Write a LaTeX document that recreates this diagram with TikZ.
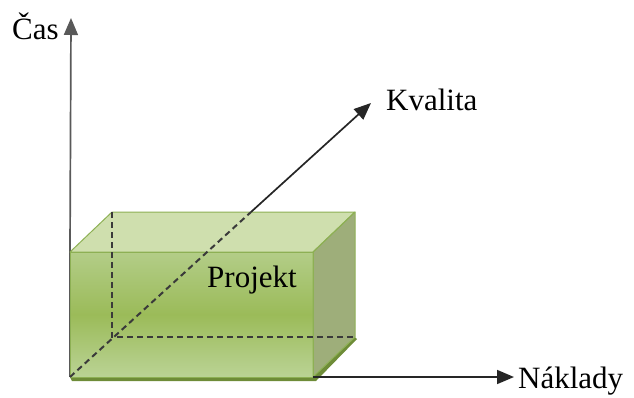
\documentclass[tikz,border=0pt]{standalone}
\usepackage{fontspec}
\setmainfont{Liberation Serif}
\usetikzlibrary{arrows.meta}
\definecolor{topface}{HTML}{CFDFAE}
\definecolor{sideface}{HTML}{9EAE7A}
\definecolor{frontmid}{HTML}{9BBB59}
\definecolor{fronttop}{HTML}{B3CD88}
\definecolor{frontbot}{HTML}{BAD395}
\definecolor{edgegreen}{HTML}{8DB054}
\definecolor{shadowgreen}{HTML}{6E8C38}
\definecolor{hiddengray}{HTML}{3A3A3A}
\tikzset{
  axis/.style={line width=1.7pt, draw=black!85, -{Triangle[length=17pt,width=14pt]}},
  hidden/.style={line width=2pt, draw=hiddengray, dash pattern=on 6pt off 4pt},
  label/.style={font=\fontsize{31}{36}\selectfont, inner sep=0pt, anchor=base west},
  boxedge/.style={draw=edgegreen, line width=1pt, line join=round}
}
\begin{document}
\begin{tikzpicture}[x=1pt,y=-1pt]
\useasboundingbox (0,0) rectangle (634,397);
% corners
\coordinate (F1) at (70,252);
\coordinate (F2) at (313,252);
\coordinate (F3) at (313,377);
\coordinate (F4) at (70,377);
\coordinate (B1) at (112,212);
\coordinate (B2) at (355,212);
\coordinate (B3) at (355,337);
\coordinate (B4) at (112,337);
% axis ends
\coordinate (tipT) at (71,18);
\coordinate (tipK) at (371,103);
\coordinate (tipN) at (514,377);
\coordinate (exitK) at (251,212);
% axes behind
\draw[line width=1.7pt, draw=black!65] (F4) -- (F1);
\draw[axis, draw=black!65, fill=black] (F1) -- (tipT);
% shadow
\fill[shadowgreen] ([shift={(2,4)}]F4) -- ([shift={(3,4)}]F3) -- ([shift={(2,2)}]B3) -- (B3) -- (F3) -- (F4) -- cycle;
% faces
\fill[topface] (F1) -- (B1) -- (B2) -- (F2) -- cycle;
\fill[sideface] (F2) -- (B2) -- (B3) -- (F3) -- cycle;
\shade[top color=fronttop, bottom color=frontbot, middle color=frontmid] (F1) rectangle (F3);
\draw[boxedge] (F1) -- (B1) -- (B2) -- (F2) -- cycle;
\draw[boxedge] (F2) -- (B2) -- (B3) -- (F3) -- cycle;
\draw[boxedge] (F1) rectangle (F3);
% hidden edges
\draw[hidden] (B1) -- (B4) -- (B3);
\draw[hidden] (F4) -- (exitK);
% visible axes
\draw[axis, fill=black] (exitK) -- (tipK);
\draw[axis, fill=black] (F3) -- (tipN);
% labels
\node[label] (cas) at (12,39) {Čas};
\node[label] (kval) at (386,110) {Kvalita};
\node[label] (nakl) at (518,388) {Náklady};
\node[label] (proj) at (207,287) {Projekt};
\end{tikzpicture}
\end{document}
